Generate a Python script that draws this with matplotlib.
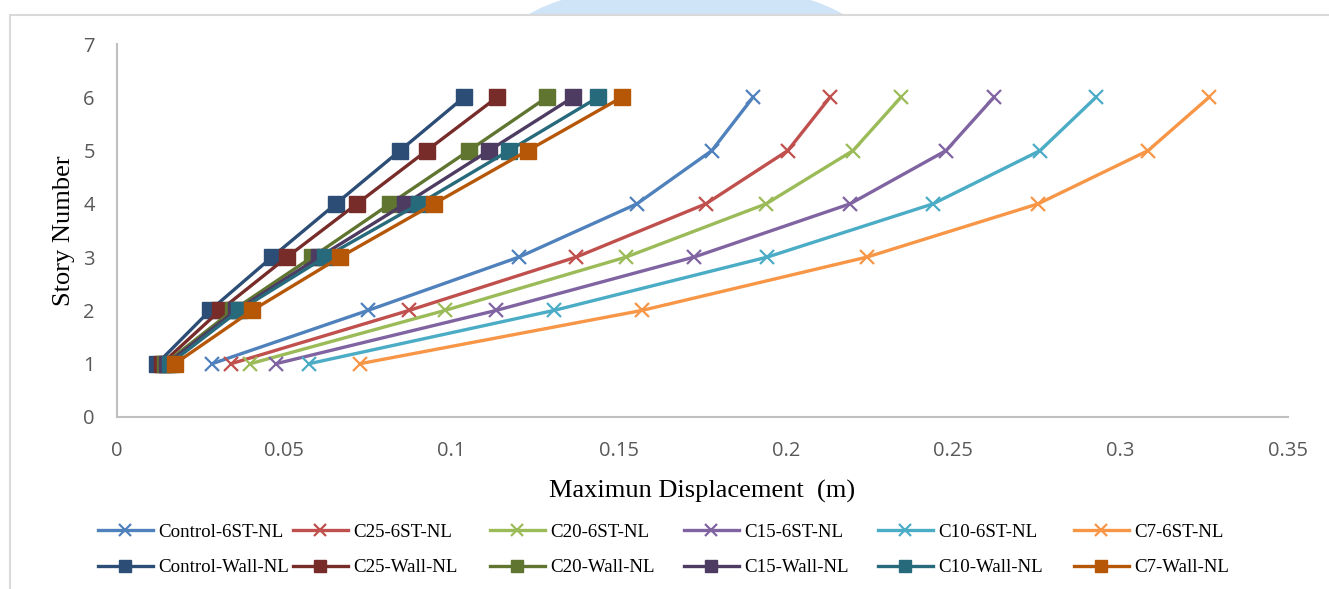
import matplotlib
matplotlib.use("Agg")
import matplotlib.pyplot as plt
from matplotlib.patches import Ellipse, Rectangle

# story levels
stories = [1, 2, 3, 4, 5, 6]

# maximum displacement (m) - frame only models
control_6st = [0.0284, 0.0750, 0.1201, 0.1554, 0.1778, 0.1901]
c25_6st = [0.0341, 0.0873, 0.1372, 0.1760, 0.2005, 0.2131]
c20_6st = [0.0398, 0.0980, 0.1521, 0.1940, 0.2200, 0.2343]
c15_6st = [0.0475, 0.1133, 0.1724, 0.2191, 0.2478, 0.2621]
c10_6st = [0.0574, 0.1306, 0.1943, 0.2439, 0.2759, 0.2926]
c7_6st = [0.0726, 0.1569, 0.2241, 0.2753, 0.3082, 0.3264]

# maximum displacement (m) - wall models
control_wall = [0.0120, 0.0278, 0.0463, 0.0654, 0.0846, 0.1037]
c25_wall = [0.0134, 0.0308, 0.0508, 0.0717, 0.0926, 0.1136]
c20_wall = [0.0143, 0.0346, 0.0583, 0.0816, 0.1052, 0.1285]
c15_wall = [0.0149, 0.0356, 0.0604, 0.0861, 0.1112, 0.1363]
c10_wall = [0.0158, 0.0365, 0.0622, 0.0903, 0.1172, 0.1438]
c7_wall = [0.0173, 0.0404, 0.0667, 0.0947, 0.1228, 0.1509]

labels_6st = ["Control-6ST-NL", "C25-6ST-NL", "C20-6ST-NL",
              "C15-6ST-NL", "C10-6ST-NL", "C7-6ST-NL"]
labels_wall = ["Control-Wall-NL", "C25-Wall-NL", "C20-Wall-NL",
               "C15-Wall-NL", "C10-Wall-NL", "C7-Wall-NL"]
series_6st = [control_6st, c25_6st, c20_6st, c15_6st, c10_6st, c7_6st]
series_wall = [control_wall, c25_wall, c20_wall, c15_wall, c10_wall, c7_wall]

colors_6st = ["#4F81BD", "#C0504D", "#9BBB59", "#8064A2", "#4BACC6", "#F79646"]
colors_wall = ["#2C4D75", "#772C2A", "#5F7530", "#4D3B62", "#276A7C", "#B65708"]

W, H = 1329, 589
fig = plt.figure(figsize=(W / 100, H / 100), dpi=100)

# screenshot decorations: blue blob at top and chart-area frame
fig.patches.append(Ellipse((686 / W, 1 - 45 / H), 362 / W, 124 / H,
                           transform=fig.transFigure, facecolor="#CFE4F7",
                           edgecolor="none", zorder=0))
fig.patches.append(Rectangle((10 / W, -0.1), 1.2, 1 - 15 / H + 0.1,
                             transform=fig.transFigure, facecolor="white",
                             edgecolor="#D9D9D9", linewidth=1.5, zorder=0.5))

ax = fig.add_axes([117 / W, 1 - 417 / H, (1288 - 117) / W, (417 - 44) / H])
ax.set_zorder(2)
ax.patch.set_alpha(0)

handles_6st, handles_wall = [], []
for vals, lab, col in zip(series_6st, labels_6st, colors_6st):
    h, = ax.plot(vals, stories, color=col, lw=2.4, marker="x", ms=10,
                 mew=1.6, label=lab)
    handles_6st.append(h)
for vals, lab, col in zip(series_wall, labels_wall, colors_wall):
    h, = ax.plot(vals, stories, color=col, lw=2.4, marker="s", ms=11,
                 label=lab)
    handles_wall.append(h)

ax.set_xlim(0, 0.35)
ax.set_ylim(0, 7)
ax.set_xticks([0, 0.05, 0.1, 0.15, 0.2, 0.25, 0.3, 0.35])
ax.set_xticklabels(["0", "0.05", "0.1", "0.15", "0.2", "0.25", "0.3", "0.35"])
ax.set_yticks(range(8))
for s in ["top", "right"]:
    ax.spines[s].set_visible(False)
for s in ["left", "bottom"]:
    ax.spines[s].set_color("#BFBFBF")
    ax.spines[s].set_linewidth(1.5)
ax.tick_params(length=0, labelsize=14.5, colors="#595959", labelfontfamily="Open Sans")
ax.tick_params(axis="x", pad=17)
ax.tick_params(axis="y", pad=16)

ax.set_xlabel("Maximun Displacement  (m)", fontfamily="Liberation Serif",
              fontsize=19, labelpad=14)
ax.set_ylabel("Story Number", fontfamily="Liberation Serif", fontsize=19,
              labelpad=6)

# legend: one small legend per column so the spacing is even
col_x = [98, 293, 490, 684, 878, 1074]
for i, x in enumerate(col_x):
    fig.legend(handles=[handles_6st[i], handles_wall[i]],
               loc="center left", bbox_to_anchor=(x / W, 1 - 550 / H),
               frameon=False, borderpad=0, borderaxespad=0,
               handlelength=2.9, handletextpad=0.27, labelspacing=0.95,
               markerscale=0.8,
               prop={"family": "Liberation Serif", "size": 13.6})

fig.savefig("out.png", dpi=100)
